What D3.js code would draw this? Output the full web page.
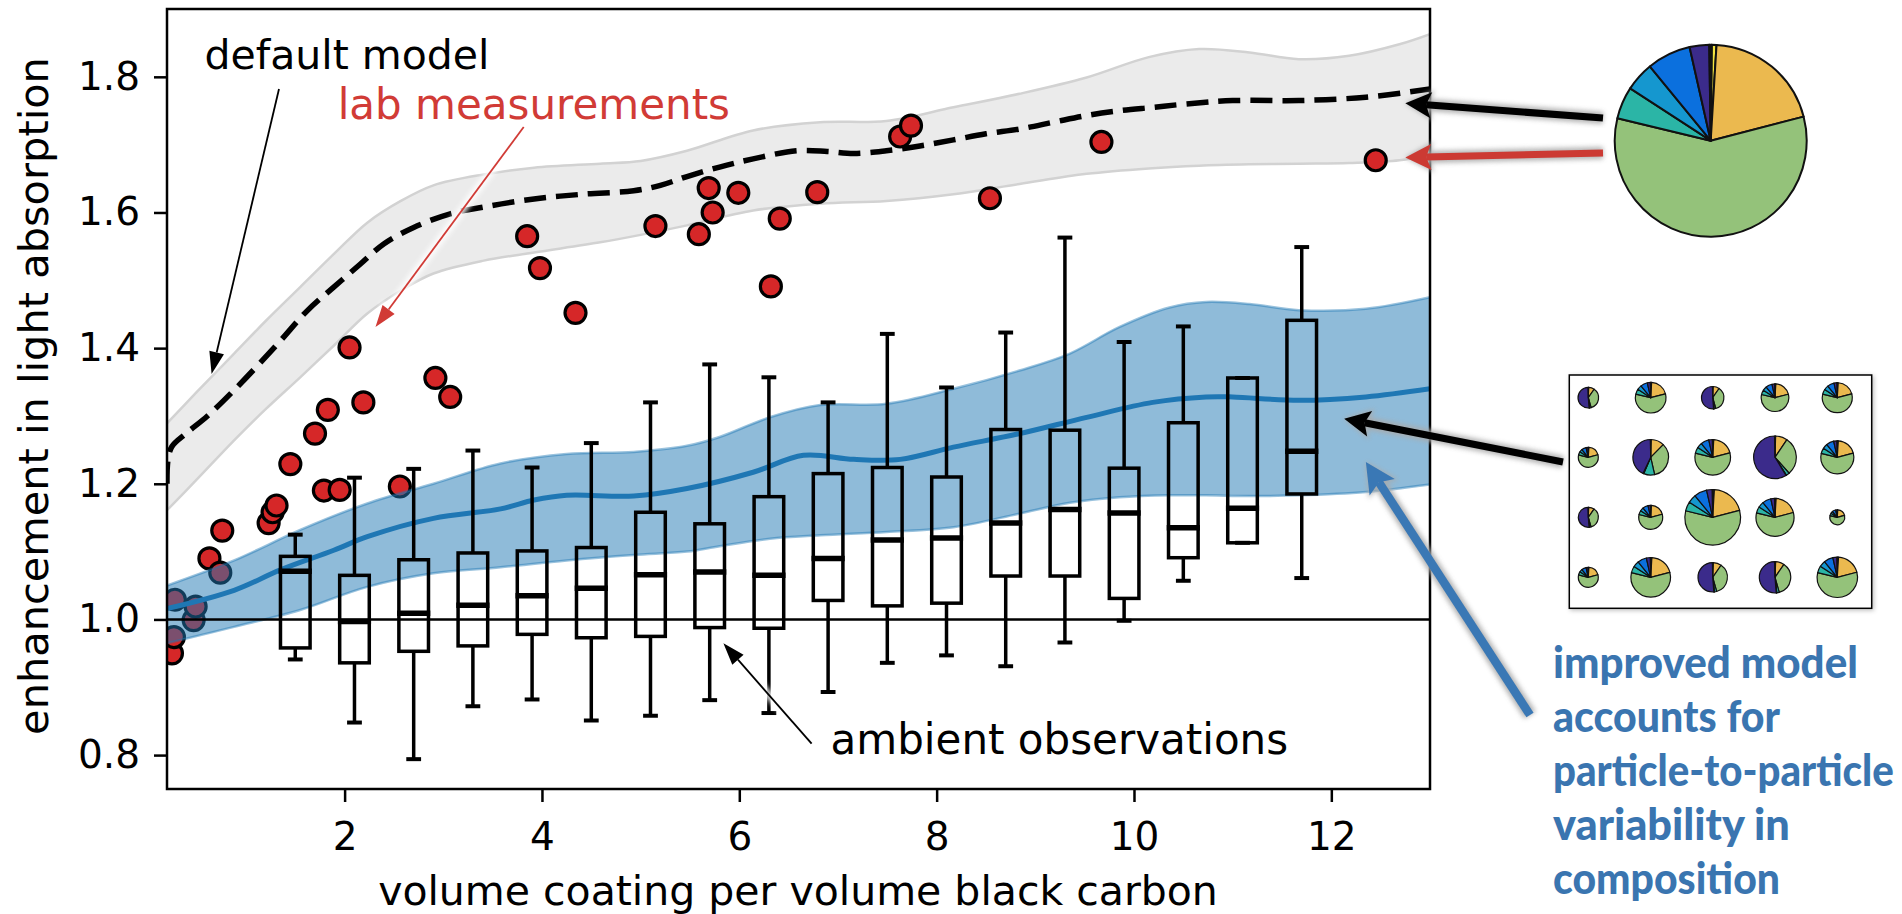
<!DOCTYPE html>
<html>
<head>
<meta charset="utf-8">
<script src="https://cdn.jsdelivr.net/npm/d3@7"></script>
<style>
  body { margin: 0; background: #fff; }
  svg { display: block; font-family: "DejaVu Sans", sans-serif; }
</style>
</head>
<body>
<div id="chart"></div>
<script>
// ---------- data ----------

// default model: dashed line and its grey range
const defaultX = [0.2, 0.21, 0.25, 0.4, 0.61, 0.88, 1.32, 1.62, 1.89, 2.16, 2.4, 2.7, 3.07, 3.41, 3.92, 4.42, 4.93, 5.2, 5.47, 5.8, 6.14, 6.58, 6.89, 7.16, 7.49, 7.83, 8.17, 8.5, 8.84, 9.18, 9.52, 9.85, 10.19, 10.53, 11.0, 11.67, 12.35, 13.0];
const defaultY = [1.20, 1.235, 1.255, 1.275, 1.300, 1.338, 1.406, 1.455, 1.490, 1.524, 1.554, 1.578, 1.598, 1.608, 1.620, 1.627, 1.632, 1.640, 1.653, 1.667, 1.679, 1.691, 1.690, 1.687, 1.691, 1.698, 1.707, 1.716, 1.723, 1.733, 1.743, 1.750, 1.755, 1.760, 1.765, 1.765, 1.770, 1.782];

const greyX = [0.2, 0.5, 0.88, 1.2, 1.55, 1.9, 2.23, 2.57, 2.9, 3.41, 3.92, 4.59, 5.0, 5.47, 6.14, 6.82, 7.49, 8.17, 8.84, 9.52, 10.15, 10.66, 11.17, 11.67, 12.18, 12.69, 13.0];
const greyHi = [1.289, 1.335, 1.392, 1.44, 1.49, 1.54, 1.585, 1.617, 1.640, 1.656, 1.666, 1.672, 1.676, 1.691, 1.721, 1.733, 1.735, 1.755, 1.775, 1.799, 1.829, 1.841, 1.836, 1.826, 1.831, 1.848, 1.863];
const greyLo = [1.161, 1.206, 1.264, 1.31, 1.357, 1.405, 1.451, 1.485, 1.510, 1.529, 1.541, 1.556, 1.567, 1.581, 1.603, 1.613, 1.617, 1.627, 1.642, 1.657, 1.665, 1.669, 1.671, 1.672, 1.673, 1.677, 1.686];

// improved model: blue line and its range
const blueBandX = [0.2, 0.88, 1.55, 2.23, 2.9, 3.58, 4.25, 4.93, 5.47, 5.8, 6.31, 6.82, 7.49, 8.17, 8.84, 9.35, 9.85, 10.36, 10.73, 11.17, 11.67, 12.35, 13.0];
const blueHi = [1.050, 1.087, 1.132, 1.171, 1.200, 1.230, 1.244, 1.247, 1.256, 1.269, 1.298, 1.316, 1.318, 1.340, 1.367, 1.392, 1.431, 1.460, 1.468, 1.465, 1.456, 1.458, 1.475];
const blueLo = [0.965, 0.989, 1.014, 1.048, 1.068, 1.077, 1.087, 1.095, 1.100, 1.108, 1.119, 1.124, 1.129, 1.136, 1.156, 1.172, 1.180, 1.183, 1.183, 1.182, 1.183, 1.188, 1.199];

const blueX = [0.2, 0.88, 1.35, 1.89, 2.23, 2.9, 3.58, 3.92, 4.25, 4.93, 5.47, 6.14, 6.65, 7.16, 7.63, 8.17, 8.84, 9.52, 10.19, 10.73, 11.0, 11.67, 12.35, 13.0];
const blueY = [1.016, 1.043, 1.073, 1.102, 1.122, 1.149, 1.163, 1.176, 1.183, 1.182, 1.193, 1.217, 1.242, 1.236, 1.236, 1.254, 1.274, 1.298, 1.320, 1.328, 1.328, 1.323, 1.328, 1.340];

// lab measurements
const labX = [0.25, 0.27, 0.28, 0.47, 0.49, 0.63, 0.74, 0.76, 1.23, 1.27, 1.31, 1.45, 1.70, 1.79, 1.83, 1.95, 2.05, 2.19, 2.56, 2.92, 3.07, 3.85, 3.98, 4.34, 5.15, 5.59, 5.69, 5.73, 5.99, 6.32, 6.41, 6.79, 7.63, 7.74, 8.54, 9.67, 12.45];
const labY = [0.950, 0.974, 1.029, 0.999, 1.019, 1.090, 1.069, 1.131, 1.142, 1.158, 1.168, 1.229, 1.274, 1.190, 1.309, 1.191, 1.401, 1.320, 1.196, 1.356, 1.328, 1.565, 1.518, 1.452, 1.580, 1.568, 1.636, 1.600, 1.629, 1.491, 1.591, 1.630, 1.712, 1.728, 1.621, 1.704, 1.677];

// ambient observations (box plots)
const boxPos  = [1.5, 2.1, 2.7, 3.3, 3.9, 4.5, 5.1, 5.7, 6.3, 6.9, 7.5, 8.1, 8.7, 9.3, 9.9, 10.5, 11.1, 11.7];
const whiskHi = [1.125, 1.209, 1.222, 1.249, 1.224, 1.260, 1.320, 1.376, 1.357, 1.320, 1.421, 1.342, 1.423, 1.563, 1.409, 1.432, 1.356, 1.549];
const q3      = [1.093, 1.065, 1.088, 1.098, 1.101, 1.106, 1.158, 1.141, 1.181, 1.215, 1.224, 1.210, 1.280, 1.279, 1.223, 1.290, 1.356, 1.441];
const median  = [1.071, 0.997, 1.009, 1.021, 1.035, 1.046, 1.066, 1.070, 1.065, 1.090, 1.117, 1.120, 1.142, 1.162, 1.157, 1.135, 1.164, 1.248];
const q1      = [0.958, 0.936, 0.953, 0.961, 0.978, 0.973, 0.975, 0.988, 0.987, 1.028, 1.020, 1.024, 1.064, 1.064, 1.031, 1.091, 1.113, 1.185];
const whiskLo = [0.941, 0.848, 0.794, 0.872, 0.882, 0.851, 0.858, 0.881, 0.862, 0.893, 0.936, 0.947, 0.931, 0.966, 0.998, 1.057, 1.113, 1.061];

const xTicks = [2, 4, 6, 8, 10, 12];
const yTicks = [0.8, 1.0, 1.2, 1.4, 1.6, 1.8];

// particle composition pies
const pieColors = ["#f3e440", "#ebb94f", "#94c27a", "#2bb5a6", "#1597cf", "#0b70de", "#3b2b8b", "#111111"];
const mixes = {
  T: [0.8, 20.0, 57.8, 5.4, 4.9, 7.4, 3.3, 0.4],
  A: [0.5, 9.0, 36.0, 2.5, 0.3, 0.3, 51.0, 0.4],
  B: [0.3, 12.0, 34.0, 10.0, 0.3, 0.3, 42.7, 0.4],
  C: [0.3, 9.0, 29.0, 2.5, 0.2, 0.2, 58.4, 0.4]
};
const gridRadius = [[10.3, 15.3, 11.2, 13.8, 15], [10, 17.8, 17.8, 21.3, 16.5], [10, 12, 27.8, 19, 7.5], [10, 19.8, 14.7, 15.7, 20.2]];
const gridMix = [["A", "T", "A", "T", "T"], ["T", "B", "T", "C", "T"], ["A", "T", "T", "T", "T"], ["T", "T", "A", "A", "T"]];

const blurb = ["improved model", "accounts for", "particle-to-particle", "variability in", "composition"];
const blurbWidth = [305, 227, 341, 237, 227];

// ---------- layout ----------
const W = 1902, H = 914;
const plot = { left: 167, top: 9, right: 1430, bottom: 789 };

const svg = d3.select("#chart").append("svg")
    .attr("width", W)
    .attr("height", H);

svg.append("rect").attr("width", W).attr("height", H).attr("fill", "#fff");

const defs = svg.append("defs");
defs.append("clipPath").attr("id", "clip")
  .append("rect")
    .attr("x", plot.left).attr("y", plot.top)
    .attr("width", plot.right - plot.left).attr("height", plot.bottom - plot.top);

const blur = defs.append("filter").attr("id", "blur")
    .attr("x", "-20%").attr("y", "-20%").attr("width", "140%").attr("height", "140%");
blur.append("feGaussianBlur").attr("stdDeviation", 2.5);

const shadow = defs.append("filter").attr("id", "shadow")
    .attr("x", "-20%").attr("y", "-20%").attr("width", "140%").attr("height", "140%");
shadow.append("feDropShadow").attr("dx", 1.5).attr("dy", 1.5).attr("stdDeviation", 2)
    .attr("flood-color", "#000").attr("flood-opacity", 0.25);

// scales
const x = d3.scaleLinear().domain([0.2, 13]).range([plot.left, plot.right]);
const y = d3.scaleLinear().domain([0.75, 1.9]).range([plot.bottom, plot.top]);

const zip = (xs, ys) => xs.map((v, i) => [v, ys[i]]);
const curve = d3.curveCatmullRom.alpha(0.5);

const band = d3.area()
    .x(d => x(d[0])).y0(d => y(d[1])).y1(d => y(d[2]))
    .curve(curve);
const line = d3.line()
    .x(d => x(d[0])).y(d => y(d[1]))
    .curve(curve);

const g = svg.append("g").attr("clip-path", "url(#clip)");

// default model range
const greyData = greyX.map((v, i) => [v, greyLo[i], greyHi[i]]);
g.append("path").attr("d", band(greyData)).attr("fill", "#ebebeb");
g.append("path").attr("d", line(zip(greyX, greyHi))).attr("fill", "none").attr("stroke", "#d2d2d2").attr("stroke-width", 2.5);
g.append("path").attr("d", line(zip(greyX, greyLo))).attr("fill", "none").attr("stroke", "#d2d2d2").attr("stroke-width", 2.5);

// default model line
g.append("path")
    .attr("d", line(zip(defaultX, defaultY)))
    .attr("fill", "none")
    .attr("stroke", "#000")
    .attr("stroke-width", 5.5)
    .attr("stroke-dasharray", "22,10");

// lab measurements
g.selectAll(".lab")
  .data(zip(labX, labY))
  .enter().append("circle")
    .attr("class", "lab")
    .attr("cx", d => x(d[0]))
    .attr("cy", d => y(d[1]))
    .attr("r", 10.5)
    .attr("fill", "#d62728")
    .attr("stroke", "#000")
    .attr("stroke-width", 3.2);

// improved model range (drawn over the dots, half transparent)
const blueData = blueBandX.map((v, i) => [v, blueLo[i], blueHi[i]]);
g.append("path").attr("d", band(blueData)).attr("fill", "#1f77b4").attr("fill-opacity", 0.5);
g.append("path").attr("d", line(zip(blueBandX, blueHi))).attr("fill", "none").attr("stroke", "#1f77b4").attr("stroke-opacity", 0.45).attr("stroke-width", 2.5);
g.append("path").attr("d", line(zip(blueBandX, blueLo))).attr("fill", "none").attr("stroke", "#1f77b4").attr("stroke-opacity", 0.45).attr("stroke-width", 2.5);

g.append("path")
    .attr("d", line(zip(blueX, blueY)))
    .attr("fill", "none")
    .attr("stroke", "#1f77b4")
    .attr("stroke-width", 5);

// reference line at 1
g.append("line")
    .attr("x1", x(0.2)).attr("x2", x(13))
    .attr("y1", y(1)).attr("y2", y(1))
    .attr("stroke", "#000").attr("stroke-width", 2.5);

// box plots
const boxes = boxPos.map((p, i) => ({ p, lo: whiskLo[i], q1: q1[i], med: median[i], q3: q3[i], hi: whiskHi[i] }));
const bw = 0.3;
const bg = g.selectAll(".box").data(boxes).enter().append("g").attr("class", "box")
    .attr("stroke", "#000").attr("fill", "none");
bg.append("line").attr("x1", d => x(d.p)).attr("x2", d => x(d.p)).attr("y1", d => y(d.q3)).attr("y2", d => y(d.hi)).attr("stroke-width", 3.5);
bg.append("line").attr("x1", d => x(d.p)).attr("x2", d => x(d.p)).attr("y1", d => y(d.q1)).attr("y2", d => y(d.lo)).attr("stroke-width", 3.5);
bg.append("line").attr("x1", d => x(d.p - bw / 4)).attr("x2", d => x(d.p + bw / 4)).attr("y1", d => y(d.hi)).attr("y2", d => y(d.hi)).attr("stroke-width", 4);
bg.append("line").attr("x1", d => x(d.p - bw / 4)).attr("x2", d => x(d.p + bw / 4)).attr("y1", d => y(d.lo)).attr("y2", d => y(d.lo)).attr("stroke-width", 4);
bg.append("rect")
    .attr("x", d => x(d.p - bw / 2))
    .attr("width", x(bw) - x(0))
    .attr("y", d => y(d.q3))
    .attr("height", d => y(d.q1) - y(d.q3))
    .attr("stroke-width", 3.5);
bg.append("line").attr("x1", d => x(d.p - bw / 2) - 1.8).attr("x2", d => x(d.p + bw / 2) + 1.8).attr("y1", d => y(d.med)).attr("y2", d => y(d.med)).attr("stroke-width", 5.5);

// axes
const yAxis = svg.append("g")
    .attr("transform", `translate(${plot.left},0)`)
    .call(d3.axisLeft(y).tickValues(yTicks).tickFormat(d3.format(".1f")).tickSize(13).tickPadding(14));
const xAxis = svg.append("g")
    .attr("transform", `translate(0,${plot.bottom})`)
    .call(d3.axisBottom(x).tickValues(xTicks).tickFormat(d3.format("d")).tickSize(13).tickPadding(20));
[xAxis, yAxis].forEach(a => {
  a.select(".domain").remove();
  a.selectAll(".tick line").attr("stroke", "#000").attr("stroke-width", 2.5);
  a.selectAll(".tick text").attr("fill", "#000")
      .style("font-family", "DejaVu Sans").style("font-size", "39px");
});

svg.append("rect")
    .attr("x", plot.left).attr("y", plot.top)
    .attr("width", plot.right - plot.left).attr("height", plot.bottom - plot.top)
    .attr("fill", "none").attr("stroke", "#000").attr("stroke-width", 2.5);

svg.append("text")
    .attr("x", 798)
    .attr("y", 905)
    .attr("text-anchor", "middle")
    .style("font-size", "41px")
    .text("volume coating per volume black carbon");

svg.append("text")
    .attr("transform", `translate(48,${(plot.top + plot.bottom) / 2 - 3}) rotate(-90)`)
    .attr("text-anchor", "middle")
    .style("font-size", "41.5px")
    .text("enhancement in light absorption");

// ---------- annotations ----------
function arrow(parent, x1, y1, x2, y2, o) {
  const a = Math.atan2(y2 - y1, x2 - x1);
  const c = Math.cos(a), s = Math.sin(a);
  const bx = x2 - o.head * c, by = y2 - o.head * s;
  const nx = x2 - o.head * (1 - o.notch) * c, ny = y2 - o.head * (1 - o.notch) * s;
  const px = -s * o.headW / 2, py = c * o.headW / 2;
  const grp = parent.append("g");
  grp.append("line")
      .attr("x1", x1).attr("y1", y1).attr("x2", nx).attr("y2", ny)
      .attr("stroke", o.color).attr("stroke-width", o.width);
  grp.append("path")
      .attr("d", `M${x2},${y2}L${bx + px},${by + py}L${nx},${ny}L${bx - px},${by - py}Z`)
      .attr("fill", o.color);
  return grp;
}
function haloArrow(x1, y1, x2, y2, o, haloColor, haloW) {
  const h = svg.append("g").attr("filter", "url(#blur)").attr("opacity", 0.9);
  arrow(h, x1, y1, x2, y2, Object.assign({}, o, { color: haloColor, width: o.width + haloW, headW: o.headW + haloW, head: o.head + haloW / 2 }));
  arrow(svg, x1, y1, x2, y2, o);
}

const thin = { width: 1.8, head: 22, headW: 15, notch: 0 };

svg.append("text").attr("x", x(0.58)).attr("y", y(1.811))
    .style("font-size", "41px").text("default model");
haloArrow(x(1.335), y(1.782), x(0.652), y(1.362), Object.assign({ color: "#000" }, thin), "#fff", 6);

svg.append("text").attr("x", x(1.93)).attr("y", y(1.738))
    .attr("fill", "#d13b36")
    .style("font-size", "42px").text("lab measurements");
haloArrow(x(3.815), y(1.726), x(2.313), y(1.431), Object.assign({ color: "#d13b36" }, thin), "#fff", 6);

haloArrow(x(6.733), y(0.817), x(5.839), y(0.965), Object.assign({ color: "#000" }, thin), "#fff", 6);
svg.append("text").attr("x", x(6.925)).attr("y", y(0.801))
    .style("font-size", "42px").text("ambient observations");

// big pie: the default model's single particle composition
const pie = d3.pie().sort(null).value(d => d)
    .startAngle(0.6 * Math.PI / 180).endAngle(0.6 * Math.PI / 180 + 2 * Math.PI);

function drawPie(cx, cy, r, shares, sw) {
  const pg = svg.append("g").attr("transform", `translate(${cx},${cy})`);
  pg.selectAll("path").data(pie(shares)).enter().append("path")
      .attr("d", d3.arc().innerRadius(0).outerRadius(r))
      .attr("fill", (d, i) => pieColors[i])
      .attr("stroke", "#111").attr("stroke-width", sw).attr("stroke-linejoin", "round");
}

const thick = { width: 7, head: 26, headW: 26, notch: 0.2 };
haloArrow(1603, 118, x(12.75), y(1.761), Object.assign({ color: "#000" }, thick), "#aaa", 5);
haloArrow(1603, 153, x(12.75), y(1.681), Object.assign({ color: "#cc3a33" }, thick), "#aaa", 5);

drawPie(1710.7, 140.7, 96, mixes.T, 2);

// grid of particle pies
const colX = [1588.3, 1650.7, 1712.7, 1775, 1837.3];
const rowY = [397.7, 457.3, 517.3, 577.3];
svg.append("rect")
    .attr("x", 1569.3).attr("y", 375).attr("width", 302.4).attr("height", 233.3)
    .attr("fill", "#fff").attr("stroke", "#000").attr("stroke-width", 1.5)
    .attr("filter", "url(#shadow)");
gridRadius.forEach((row, i) => row.forEach((r, j) => {
  drawPie(colX[j], rowY[i], r, mixes[gridMix[i][j]], 1.2);
}));

haloArrow(1563, 462, x(12.13), y(1.296), Object.assign({ color: "#000" }, thick), "#aaa", 5);
haloArrow(1530, 715, x(12.35), y(1.232), Object.assign({ color: "#3a78b5" }, thick, { width: 8.5, head: 30, headW: 30 }), "#aaa", 5);

// improved model text, squeezed horizontally to the reference widths
svg.append("g").selectAll("text").data(blurb).enter().append("text")
    .attr("fill", "#3a75b0")
    .style("font-family", "Lato, 'Open Sans', sans-serif")
    .style("font-weight", 900)
    .style("font-size", "44px")
    .text(d => d)
    .each(function(d, i) {
      const natural = this.getComputedTextLength();
      const sx = blurbWidth[i] / natural;
      d3.select(this).attr("transform", `translate(1553,${678 + i * 54}) scale(${sx},1)`);
    });
</script>
</body>
</html>
